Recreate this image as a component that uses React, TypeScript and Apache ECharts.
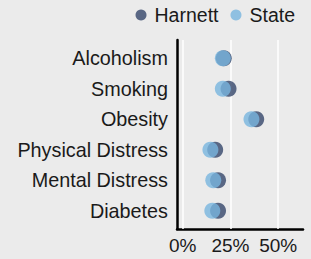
import React, { useEffect, useRef } from "react";
import * as echarts from "echarts";

const categories = ["Alcoholism", "Smoking", "Obesity", "Physical Distress", "Mental Distress", "Diabetes"];
const harnettValues = [21.5, 24, 38.5, 17, 18.5, 18.5];
const stateValues = [21, 21, 36, 14.5, 16, 15.5];
const xTicks = [0, 25, 50];

export default function App() {
  const ref = useRef<HTMLDivElement>(null);
  useEffect(() => {
    if (!ref.current) return;
    const chart = echarts.init(ref.current, null, { renderer: "svg" });
    const font = "'Liberation Sans', Arial, sans-serif";
    const toData = (vals: number[]) => vals.map((v, i) => [v, i + 1]);
    chart.setOption({
      animation: false,
      backgroundColor: "#ebebeb",
      textStyle: { fontFamily: font },
      legend: {
        right: 11,
        top: 0,
        itemWidth: 11,
        itemHeight: 11,
        itemGap: 12,
        icon: "circle",
        textStyle: { fontSize: 19.5, color: "#1a1a1a", fontFamily: font, padding: [0, 0, 0, 3] },
        data: ["Harnett", "State"],
      },
      grid: { left: 177, right: 8, top: 40, bottom: 30, containLabel: false },
      xAxis: {
        type: "value",
        min: -3,
        max: 63,
        axisLine: { show: true, onZero: false, lineStyle: { color: "#000", width: 2.5 } },
        axisTick: { show: false },
        splitLine: { show: false },
        axisLabel: {
          customValues: xTicks,
          formatter: (v: number) => v + "%",
          fontSize: 19,
          color: "#1a1a1a",
          margin: 7,
          fontFamily: font,
        },
      },
      yAxis: {
        type: "value",
        min: 0.4,
        max: 6.6,
        inverse: true,
        axisLine: { show: true, onZero: false, lineStyle: { color: "#000", width: 2.5 } },
        axisTick: { show: false },
        splitLine: { show: false },
        axisLabel: {
          customValues: categories.map((_, i) => i + 1),
          formatter: (v: number) => categories[Math.round(v) - 1] ?? "",
          fontSize: 19.8,
          color: "#1a1a1a",
          margin: 9,
          fontFamily: font,
        },
      },
      series: [
        {
          name: "Harnett",
          type: "scatter",
          symbolSize: 16,
          itemStyle: { color: "#34466a" },
          data: toData(harnettValues),
          z: 3,
          markLine: {
            silent: true,
            symbol: "none",
            label: { show: false },
            lineStyle: { color: "#ffffff", width: 1.5, type: "solid" },
            data: xTicks.map((t) => ({ xAxis: t })),
            z: 1,
          },
        },
        {
          name: "State",
          type: "scatter",
          symbolSize: 16,
          itemStyle: { color: "#78b5df", opacity: 0.8 },
          data: toData(stateValues),
          z: 4,
        },
      ],
    });
    return () => chart.dispose();
  }, []);
  return <div ref={ref} style={{ position: "fixed", left: 0, top: 0, width: 311, height: 259 }} />;
}
